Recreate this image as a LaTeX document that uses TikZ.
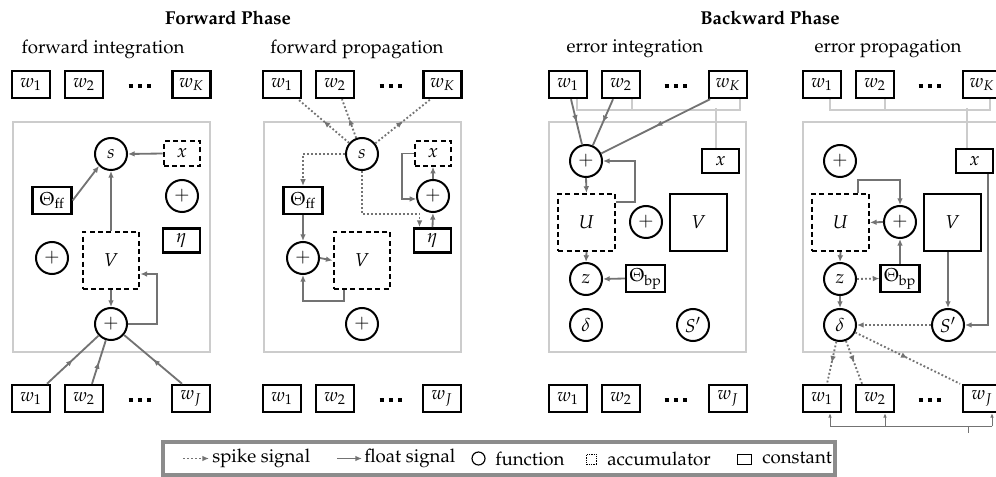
\documentclass[tikz,border=0pt]{standalone}
\usepackage[T1]{fontenc}
\usepackage{mathpazo}
\usetikzlibrary{arrows.meta,decorations.markings,calc}
\definecolor{cgray}{gray}{0.45}
\definecolor{fgray}{gray}{0.8}
\definecolor{lgray}{gray}{0.55}
\newcommand{\sqdots}{\rule{2.6pt}{2.5pt}\hspace{2.9pt}\rule{2.6pt}{2.5pt}\hspace{2.9pt}\rule{2.6pt}{2.5pt}}
\begin{document}
\fontsize{11.2}{13.4}\selectfont
\begin{tikzpicture}[x=0.6pt,y=-0.6pt,
  fn/.style={circle,draw=black,line width=1.2pt,minimum size=19.2pt,inner sep=0pt},
  acc/.style={rectangle,draw=black,line width=1.3pt,dash pattern=on 3pt off 2pt,inner sep=0pt},
  cst/.style={rectangle,draw=black,line width=1.5pt,inner sep=0pt},
  wbox/.style={cst,minimum width=22.8pt,minimum height=16.2pt},
  xbox/.style={minimum width=22pt,minimum height=14.6pt},
  thbox/.style={cst,minimum width=23.2pt,minimum height=16pt},
  bigbox/.style={minimum width=34pt,minimum height=34.2pt},
  conn/.style={draw=cgray,line width=1.1pt},
  tip/.style={-{Latex[length=4pt,width=3.4pt]}},
  float/.style={conn,tip},
  spike/.style={conn,dash pattern=on 1.1pt off 1.3pt},
  midarrow/.style={postaction={decorate},decoration={markings,mark=at position 0.5 with {\arrow[cgray]{Latex[length=4pt,width=3.4pt]}}}},
  frame/.style={draw=fgray,line width=1.6pt},
  bus/.style={draw=fgray,line width=1.3pt},
  thinbus/.style={draw=cgray,line width=0.6pt},
  smalltip/.style={-{Latex[length=2.6pt,width=2.2pt]}},
  dotsnode/.style={inner sep=0pt},
  ]
\useasboundingbox (0,0) rectangle (996,477);
\clip (0,0) rectangle (996,477);

% titles
\node[font=\bfseries] (t1) at (228,18) {Forward Phase};
\node[font=\bfseries] (t2) at (770,18) {Backward Phase};

% ================= Panel 1: forward integration
\node (a-title) at (103,49) {forward integration};
\draw[frame] (13,122) rectangle (210,352);
\node[wbox] (a-wt1) at (31,84.5) {$w_1$};
\node[wbox] (a-wt2) at (84,84.5) {$w_2$};
\node[dotsnode] (a-dt) at (140,86) {\sqdots};
\node[wbox] (a-wtK) at (191.5,84.5) {$w_K$};
\node[fn] (a-s) at (111,154) {$s$};
\node[acc,xbox] (a-x) at (182,153.5) {$x$};
\node[fn] (a-pA) at (182,196) {$+$};
\node[thbox] (a-Th) at (52,200.5) {$\Theta_{\mathrm{ff}}$};
\node[cst,xbox] (a-eta) at (181.5,240.5) {$\eta$};
\node[fn] (a-pB) at (52,258) {$+$};
\node[acc,bigbox] (a-V) at (111,260.5) {$V$};
\node[fn] (a-pC) at (111,324) {$+$};
\node[wbox] (a-wb1) at (31,398.5) {$w_1$};
\node[wbox] (a-wb2) at (84,398.5) {$w_2$};
\node[dotsnode] (a-db) at (140,400) {\sqdots};
\node[wbox] (a-wbJ) at (191,398.5) {$w_J$};

\draw[float] (a-Th.east) -- (a-s.225);
\draw[float] (a-V.north) -- (a-s.south);
\draw[float] (a-x.west) -- (a-s.east);
\draw[float] (a-V.south) -- (a-pC.north);
\draw[float] (a-pC.east) -- ++(29,0) |- ($(a-V.east)+(0,13.5)$);
\draw[conn,midarrow] ($(a-wb1.north)+(16,0)$) -- (a-pC);
\draw[conn,midarrow] ($(a-wb2.north)+(8,0)$) -- (a-pC);
\draw[conn,midarrow] ($(a-wbJ.north)+(-9,0)$) -- (a-pC);

% ================= Panel 2: forward propagation
\node (b-title) at (357,49) {forward propagation};
\draw[frame] (264,122) rectangle (461,352);
\node[wbox] (b-wt1) at (282,84.5) {$w_1$};
\node[wbox] (b-wt2) at (335,84.5) {$w_2$};
\node[dotsnode] (b-dt) at (391,86) {\sqdots};
\node[wbox] (b-wtK) at (442.5,84.5) {$w_K$};
\node[fn] (b-s) at (362,154) {$s$};
\node[acc,xbox] (b-x) at (433,153.5) {$x$};
\node[fn] (b-pA) at (433,196) {$+$};
\node[thbox] (b-Th) at (303,200.5) {$\Theta_{\mathrm{ff}}$};
\node[cst,xbox] (b-eta) at (432.5,240.5) {$\eta$};
\node[fn] (b-pB) at (303,258) {$+$};
\node[acc,bigbox] (b-V) at (362,260.5) {$V$};
\node[fn] (b-pC) at (362,324) {$+$};
\node[wbox] (b-wb1) at (282,398.5) {$w_1$};
\node[wbox] (b-wb2) at (335,398.5) {$w_2$};
\node[dotsnode] (b-db) at (391,400) {\sqdots};
\node[wbox] (b-wbJ) at (442,398.5) {$w_J$};

\draw[spike,midarrow] (b-s) -- ($(b-wt1.south)+(16,0)$);
\draw[spike,midarrow] (b-s) -- ($(b-wt2.south)+(7,0)$);
\draw[spike,midarrow] (b-s) -- ($(b-wtK.south)+(-12,0)$);
\draw[spike,tip] (b-s.west) -| (b-Th.north);
\draw[spike,tip] (b-s.south) |- ($(b-eta.north)+(-13,-13)$) -- ($(b-eta.north)+(-13,0)$);
\draw[float] (b-eta.north) -- (b-pA.south);
\draw[float] (b-pA.north) -- (b-x.south);
\draw[float] (b-x.west) -- ++(-12,0) |- (b-pA.190);
\draw[float] (b-Th.south) -- (b-pB.north);
\draw[float] (b-pB.east) -- (b-V.west);
\draw[float] ($(b-V.south)+(-18,0)$) -- ++(0,11) -| (b-pB.south);

% ================= Panel 3: error integration
\node (c-title) at (635,49) {error integration};
\draw[frame] (549,122) rectangle (746,352);
\node[wbox] (c-wt1) at (568,84.5) {$w_1$};
\node[wbox] (c-wt2) at (621,84.5) {$w_2$};
\node[dotsnode] (c-dt) at (676,86) {\sqdots};
\node[wbox] (c-wtK) at (728,84.5) {$w_K$};
\node[fn] (c-pA) at (586,161) {$+$};
\node[cst,xbox] (c-x) at (720.5,161) {$x$};
\node[acc,bigbox] (c-U) at (586.5,222.5) {$U$};
\node[fn] (c-pB) at (646,222) {$+$};
\node[cst,bigbox] (c-V) at (698.5,222.5) {$V$};
\node[fn] (c-z) at (586,279) {$z$};
\node[thbox] (c-Th) at (645.5,278.5) {$\Theta_{\mathrm{bp}}$};
\node[fn] (c-d) at (586,325) {$\delta$};
\node[fn] (c-Sp) at (693,325) {$S'$};
\node[wbox] (c-wb1) at (568,398.5) {$w_1$};
\node[wbox] (c-wb2) at (621,398.5) {$w_2$};
\node[dotsnode] (c-db) at (676,400) {\sqdots};
\node[wbox] (c-wbJ) at (728,398.5) {$w_J$};

\draw[bus] ($(c-wt1.south)+(9,0)$) |- ($(c-wtK.south)+(12,11)$) -- ($(c-wtK.south)+(12,0)$);
\draw[bus] ($(c-wt2.south)+(11,0)$) -- ++(0,11);
\draw[bus] ($(c-x.north)+(-4.5,0)$) -- ++(0,-40);
\draw[conn,midarrow] ($(c-wt1.south)+(3,0)$) -- (c-pA);
\draw[conn,midarrow] ($(c-wt2.south)+(-8,0)$) -- (c-pA);
\draw[conn,midarrow] ($(c-wtK.south)+(-18,0)$) -- (c-pA);
\draw[float] (c-pA.south) -- (c-U.north);
\draw[float] ($(c-U.north east)+(0,9)$) -- ++(19,0) |- (c-pA.east);
\draw[float] (c-U.south) -- (c-z.north);
\draw[float] (c-Th.west) -- (c-z.east);

% ================= Panel 4: error propagation
\node (d-title) at (888,49) {error propagation};
\draw[frame] (803,122) rectangle (1000,352);
\node[wbox] (d-wt1) at (822,84.5) {$w_1$};
\node[wbox] (d-wt2) at (875,84.5) {$w_2$};
\node[dotsnode] (d-dt) at (930,86) {\sqdots};
\node[wbox] (d-wtK) at (982,84.5) {$w_K$};
\node[fn] (d-pA) at (840,161) {$+$};
\node[cst,xbox] (d-x) at (974.5,161) {$x$};
\node[acc,bigbox] (d-U) at (840.5,222.5) {$U$};
\node[fn] (d-pB) at (900,222) {$+$};
\node[cst,bigbox] (d-V) at (952.5,222.5) {$V$};
\node[fn] (d-z) at (840,279) {$z$};
\node[thbox] (d-Th) at (900,278.5) {$\Theta_{\mathrm{bp}}$};
\node[fn] (d-d) at (840,325) {$\delta$};
\node[fn] (d-Sp) at (948,325) {$S'$};
\node[wbox] (d-wb1) at (822,398.5) {$w_1$};
\node[wbox] (d-wb2) at (875,398.5) {$w_2$};
\node[dotsnode] (d-db) at (930,400) {\sqdots};
\node[wbox] (d-wbJ) at (982,398.5) {$w_J$};

\draw[bus] ($(d-wt1.south)+(8,0)$) |- ($(d-wtK.south)+(8,11)$) -- ($(d-wtK.south)+(8,0)$);
\draw[bus] ($(d-wt2.south)+(10,0)$) -- ++(0,11);
\draw[bus] ($(d-x.north)+(-7.5,0)$) -- ++(0,-40);
\draw[float] ($(d-U.north)+(17.5,0)$) -- ++(0,-13) -| (d-pB.north);
\draw[float] (d-pB.west) -- (d-U.east);
\draw[float] (d-Th.north) -- (d-pB.south);
\draw[spike,tip] (d-z.east) -- (d-Th.west);
\draw[float] (d-U.south) -- (d-z.north);
\draw[float] (d-z.south) -- (d-d.north);
\draw[float] (d-V.south -| d-Sp) -- (d-Sp.north);
\draw[float] ($(d-x.south)+(13.5,0)$) |- (d-Sp.east);
\draw[spike,tip] (d-Sp.west) -- (d-d.east);
\draw[spike,midarrow] (d-d) -- ($(d-wb1.north)+(5,0)$);
\draw[spike,midarrow] (d-d) -- ($(d-wb2.north)+(-13,0)$);
\draw[spike,midarrow] (d-d) -- ($(d-wbJ.north)+(-22,0)$);
\draw[thinbus] ($(d-wb1.south)+(8,13)$) -- ($(d-wbJ.south)+(10,13)$);
\draw[thinbus,smalltip] ($(d-wb1.south)+(8,13)$) -- ($(d-wb1.south)+(8,0)$);
\draw[thinbus,smalltip] ($(d-wb2.south)+(10,13)$) -- ($(d-wb2.south)+(10,0)$);
\draw[thinbus,smalltip] ($(d-wbJ.south)+(10,13)$) -- ($(d-wbJ.south)+(10,0)$);
\draw[thinbus] ($(d-wbJ.south)+(-14,13)$) -- ++(0,7);

% ================= Legend
\draw[draw=lgray,line width=2pt] (163,442) rectangle (835,475);
\coordinate (l1a) at (183,458.5);
\coordinate (l1b) at (209,458.5);
\draw[spike,tip] (l1a) -- (l1b);
\node[anchor=west,inner sep=0pt] (l1) at (212,458.5) {spike signal};
\coordinate (l2a) at (337,458.5);
\coordinate (l2b) at (362,458.5);
\draw[float] (l2a) -- (l2b);
\node[anchor=west,inner sep=0pt] (l2) at (364,458.5) {float signal};
\node[circle,draw=black,line width=0.7pt,minimum size=7.8pt,inner sep=0pt] (l3s) at (478.5,458.5) {};
\node[anchor=west,inner sep=0pt] (l3) at (495,458.5) {function};
\node[rectangle,draw=black,line width=0.5pt,dash pattern=on 0.8pt off 0.6pt,minimum size=6.4pt,inner sep=0pt] (l4s) at (591.5,459.5) {};
\node[anchor=west,inner sep=0pt] (l4) at (607,458.5) {accumulator};
\node[rectangle,draw=black,line width=0.7pt,minimum width=8.6pt,minimum height=5.8pt,inner sep=0pt] (l5s) at (744.5,459.5) {};
\node[anchor=west,inner sep=0pt] (l5) at (762,458.5) {constant};
\end{tikzpicture}
\end{document}
